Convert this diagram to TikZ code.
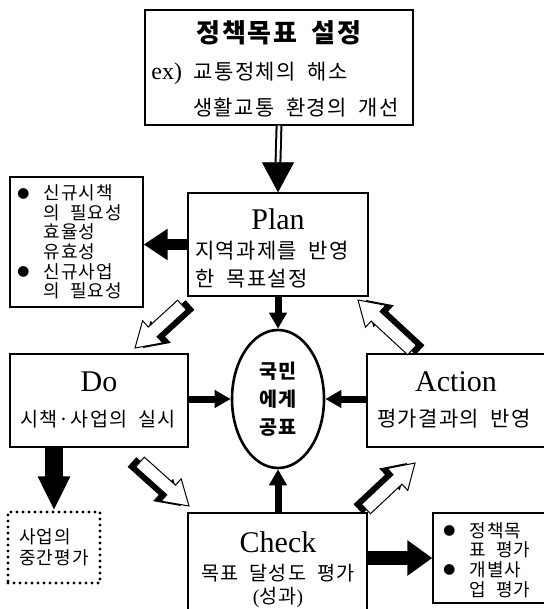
\documentclass[tikz,border=0pt]{standalone}
\usepackage{fontspec}
\usepackage{tikz}
\usetikzlibrary{arrows.meta,calc,shapes.geometric}
\setmainfont{Liberation Serif}
\newfontfamily\kr{Noto Sans CJK KR}[LetterSpace=6,WordSpace=2]
\newcommand{\bul}{\makebox[13pt][l]{\raisebox{0.8pt}{\fontsize{6}{6}\selectfont ●}}}

\begin{document}
\begin{tikzpicture}[x=0.5pt,y=-0.5pt]
\tikzset{box/.style = {draw, line width=0.7pt, inner sep=0pt}}
\tikzset{dotbox/.style = {draw, line width=1.6pt, line cap=round, dash pattern=on 0pt off 3pt, inner sep=0pt}}
\tikzset{word/.style = {inner sep=0pt, font=\kr\fontsize{10.5}{14}\selectfont}}
\tikzset{list/.style = {inner sep=0pt, align=left, font=\kr\fontsize{9}{9.8}\selectfont}}
\tikzset{phase/.style = {inner sep=0pt, font=\fontsize{15}{17}\selectfont}}
\tikzset{link/.style = {line width=3.5pt, -{Triangle[width=8.5pt,length=8pt]}}}
\tikzset{shadow/.style = {fill=black}}
\tikzset{hollow/.style = {fill=white, draw=black, line width=0.5pt}}
\useasboundingbox (0,0) rectangle (544,609);
\clip (0,0) rectangle (544,609);
% boxes
\node[box, minimum width=134pt, minimum height=57.5pt] (goal) at (279,67.5) {};
\node[box, minimum width=90pt, minimum height=51.5pt] (plan) at (278,244.5) {};
\node[box, minimum width=66.5pt, minimum height=65pt] (needs) at (76.5,242) {};
\node[box, minimum width=89pt, minimum height=46.5pt] (do) at (99,400.5) {};
\node[box, minimum width=96.5pt, minimum height=46.5pt] (act) at (463.5,400.5) {};
\node[box, minimum width=89.5pt, minimum height=63.5pt] (check) at (277.5,576.5) {};
\node[box, minimum width=63.5pt, minimum height=45pt] (eval) at (496.5,558) {};
\node[dotbox, minimum width=46pt, minimum height=35.5pt, align=left,
      font=\kr\fontsize{9}{10.5}\selectfont] (mid) at (54,547.5) {사업의\\중간평가};
\node[draw, ellipse, line width=1.3pt, minimum width=46pt, minimum height=69pt,
      inner sep=0pt, align=center, font=\kr\bfseries\fontsize{9.8}{14}\selectfont]
      (people) at (278,399) {국민\\에게\\공표};
% texts
\node[word, font=\kr\bfseries\fontsize{13}{15}\selectfont] (goal-title) at (279,33) {정책목표 설정};
\node[word, anchor=west] (goal-ex) at (151,73) {{\rmfamily\fontsize{12}{14}\selectfont ex)} 교통정체의 해소};
\node[word, anchor=west] (goal-line) at (193,108) {생활교통 환경의 개선};
\node[phase] (plan-title) at (278,219) {Plan};
\node[word, align=left, anchor=west] (plan-text) at (195,265) {지역과제를 반영\\한 목표설정};
\node[list, anchor=west] (needs-text) at (17,242)
  {\bul 신규시책\\\hspace*{13pt}의 필요성\\\hspace*{13pt}효율성\\\hspace*{13pt}유효성\\\bul 신규사업\\\hspace*{13pt}의 필요성};
\node[phase] (do-title) at (99,382) {Do};
\node[word, font=\kr\fontsize{9.8}{14}\selectfont] (do-text) at (98,419) {시책·사업의 실시};
\node[phase] (act-title) at (456,382) {Action};
\node[word] (act-text) at (454,419) {평가결과의 반영};
\node[phase] (check-title) at (278,542) {Check};
\node[word, font=\kr\fontsize{9.8}{14}\selectfont] (check-text) at (278,573) {목표 달성도 평가};
\node[word, font=\kr\fontsize{9.8}{14}\selectfont] (check-note) at (278,597) {{\rmfamily(}성과{\rmfamily)}};
\node[list, anchor=west] (eval-text) at (443,560)
  {\bul 정책목\\\hspace*{13pt}표 평가\\\bul 개별사\\\hspace*{13pt}업 평가};
% edges
\coordinate (goal-head) at ($(plan.north)+(0,-30)$);
\draw[double, double distance=1.4pt, line width=1pt] (goal.south) -- (goal-head);
\draw[line width=0.4pt, -{Triangle[width=16pt,length=15pt]}] (goal-head) -- (plan.north);
\draw[line width=5.5pt, -{Triangle[width=15pt,length=12pt]}] (plan.west) -- (needs.east |- plan.west);
\draw[link] (plan.south) -- (people.north);
\draw[link] (do.east |- people.west) -- (people.west);
\draw[link] (act.west |- people.east) -- (people.east);
\draw[link] (people.south |- check.north) -- (people.south);
\draw[line width=9pt, -{Triangle[width=15pt,length=17pt]}] (mid.north |- do.south) -- (mid.north);
\draw[line width=7pt, -{Triangle[width=17pt,length=12.5pt]}] (check.east |- eval.west) -- (eval.west);
% hollow arrows
\coordinate (pd-tail) at (182,305);
\coordinate (pd-tip) at (135,348);
\coordinate (dc-tail) at (140,462);
\coordinate (dc-tip) at (189,506);
\coordinate (ca-tail) at (366,509);
\coordinate (ca-tip) at (415,463);
\coordinate (ap-tail) at (412,350);
\coordinate (ap-tip) at (358,300);
\foreach \ta/\tb/\dx in {pd-tail/pd-tip/4pt, dc-tail/dc-tip/-4pt, ca-tail/ca-tip/-4pt, ap-tail/ap-tip/4pt}{
  \coordinate (base) at ($(\tb)!12pt!(\ta)$);
  \begin{scope}[transform canvas={xshift=\dx}]
    \fill[shadow] ($(\ta)!3.25pt!90:(\tb)$) -- ($(base)!3.25pt!90:(\tb)$) -- ($(base)!7.5pt!90:(\tb)$) -- (\tb)
      -- ($(base)!7.5pt!-90:(\tb)$) -- ($(base)!3.25pt!-90:(\tb)$) -- ($(\ta)!3.25pt!-90:(\tb)$) -- cycle;
  \end{scope}
  \filldraw[hollow] ($(\ta)!3.25pt!90:(\tb)$) -- ($(base)!3.25pt!90:(\tb)$) -- ($(base)!7.5pt!90:(\tb)$) -- (\tb)
    -- ($(base)!7.5pt!-90:(\tb)$) -- ($(base)!3.25pt!-90:(\tb)$) -- ($(\ta)!3.25pt!-90:(\tb)$) -- cycle;
}
\end{tikzpicture}
\end{document}
